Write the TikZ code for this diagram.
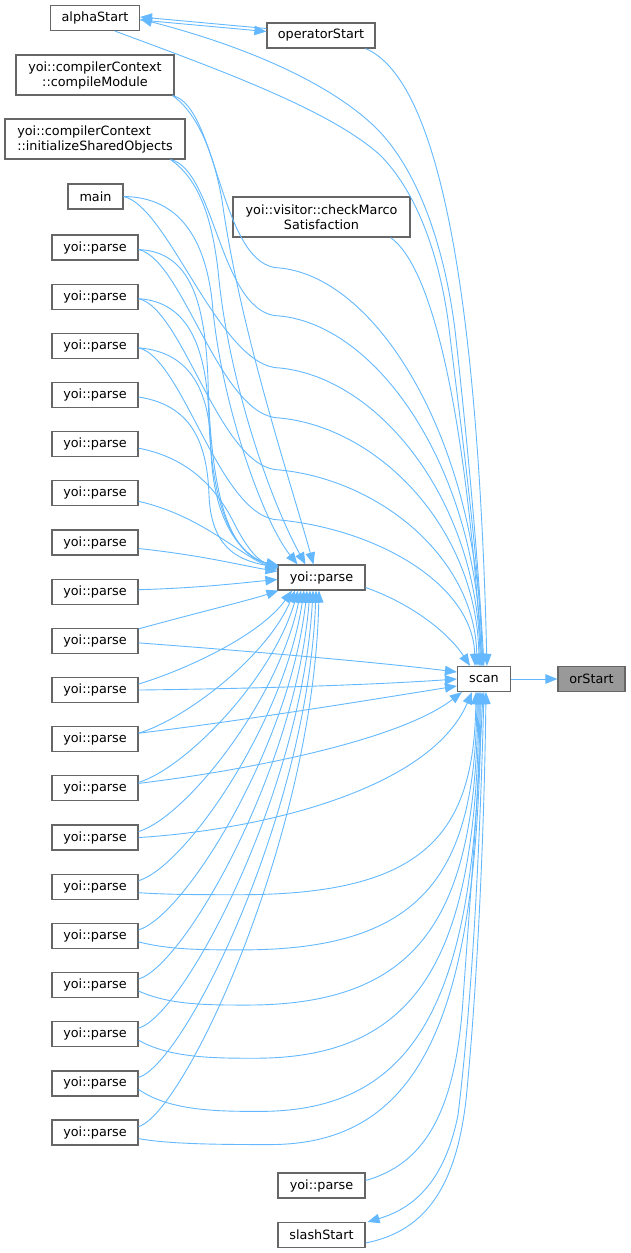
\documentclass[tikz,border=0pt]{standalone}
\usepackage{fontspec}
\setmainfont{DejaVu Sans}
\usetikzlibrary{arrows.meta,calc}
\definecolor{edgeblue}{HTML}{63B8FF}
\definecolor{bordgray}{HTML}{666666}
\definecolor{focusgray}{HTML}{999999}
\tikzset{
  box/.style={draw=bordgray, line width=1.2pt, fill=white, inner sep=0pt, align=center, font=\fontsize{12.8}{15}\selectfont},
  pbox/.style={box, minimum width=86pt, minimum height=25pt},
  conn/.style={draw=edgeblue, line width=0.9pt, -{Triangle[length=12pt,width=9.5pt]}},
}
\begin{document}
\begin{tikzpicture}[x=1pt,y=-1pt]
\useasboundingbox (0,0) rectangle (631,1253);
% ---------- nodes ----------
\node[box, minimum width=89pt, minimum height=25pt] (alpha) at (95,18) {alphaStart};
\node[box, minimum width=108pt, minimum height=25pt] (oper) at (321,35.5) {operatorStart};
\node[box, minimum width=158pt, minimum height=40pt] (cmod) at (95,75) {yoi::compilerContext\\::compileModule};
\node[box, minimum width=180pt, minimum height=40pt, align=left] (init) at (95,139) {yoi::compilerContext\\::initializeSharedObjects};
\node[box, minimum width=55pt, minimum height=25pt] (main) at (95.5,196.5) {main};
\node[box, minimum width=177pt, minimum height=40pt] (chk) at (321.5,217) {yoi::visitor::checkMarco\\Satisfaction};
\foreach \i in {1,...,19}{
  \pgfmathsetmacro{\yy}{247.5+(\i-1)*49.17}
  \node[pbox] (p\i) at (95,\yy) {yoi::parse};
}
\node[box, minimum width=87pt, minimum height=25pt] (mp) at (321.5,577.5) {yoi::parse};
\node[box, minimum width=53pt, minimum height=25pt] (scan) at (484,679) {scan};
\node[box, minimum width=67pt, minimum height=25pt, fill=focusgray] (or) at (591.5,679) {orStart};
\node[box, minimum width=87pt, minimum height=25pt] (bp) at (321.5,1185.5) {yoi::parse};
\node[box, minimum width=87pt, minimum height=25pt] (slash) at (321.5,1235) {slashStart};

% ---------- start coordinates ----------
\coordinate (scmod) at ($(cmod.south east)+(-2,0)$);
\coordinate (sinit) at ($(init.south east)+(-15,0)$);
\coordinate (smain) at (main.east);
\coordinate (sp1) at ($(p1.east)+(0,2)$);
\coordinate (sp2) at ($(p2.east)+(0,2)$);
\coordinate (sp3) at ($(p3.east)+(0,2)$);

% ---------- edges ----------
\draw[conn] (scan.east) -- (or.west);

% alphaStart / operatorStart
\draw[conn] ($(oper.west)+(0,-7)$) -- ($(alpha.east)+(0,-1)$);
\draw[conn] ($(alpha.east)+(0,2)$) -- ($(oper.west)+(0,-4)$);
\draw[conn] ($(scan.north)+(0,0)$) .. controls (478,550) and (465,420) .. (455,330)
   .. controls (445,250) and (420,175) .. (380,132)
   .. controls (340,90) and (260,50) .. ($(alpha.east)+(0,1)$);
\draw[conn] ($(alpha.south)+(20,0)$) .. controls (220,70) and (330,110) .. (380,155)
   .. controls (415,190) and (438,250) .. (448,320)
   .. controls (460,420) and (478,550) .. ($(scan.north)+(-1,0)$);
\draw[conn] ($(oper.south east)+(-10,0)$) .. controls (440,80) and (478,300) .. ($(scan.north)+(3,0)$);
\draw[conn] ($(chk.south east)+(-20,0)$) .. controls (430,265) and (465,400) .. ($(scan.north)+(-2,0)$);

% upper group -> scan
\foreach \s/\L/\ex in {scmod/268/482, sinit/316/481, smain/368/480, sp1/418/479, sp2/470/477, sp3/520/475}{
  \pgfmathsetmacro{\cy}{\L+0.45*(666-\L)}
  \pgfmathsetmacro{\dx}{\ex-484}
  \draw[conn] (\s) .. controls +(45,10) and (220,\L) .. (280,\L)
     .. controls (380,\L+10) and (\ex-2,\cy) .. ($(scan.north)+(\dx,0)$);
}

% upper group -> middle yoi::parse
\draw[conn] (scmod) .. controls (200,115) and (215,160) .. (222,200)
   .. controls (240,330) and (290,480) .. ($(mp.north)+(-8,0)$);
\draw[conn] (sinit) .. controls (200,180) and (212,220) .. (218,270)
   .. controls (228,380) and (270,500) .. ($(mp.north)+(-16,0)$);
\draw[conn] (smain) .. controls (180,197) and (205,240) .. (212,300)
   .. controls (220,400) and (262,520) .. ($(mp.north)+(-24,0)$);
\draw[conn] (sp1) .. controls (190,252) and (205,300) .. (208,380)
   .. controls (211,500) and (230,555) .. ($(mp.north west)+(1,1)$);
\draw[conn] (sp2) .. controls (190,302) and (207,350) .. (209,420)
   .. controls (212,510) and (235,555) .. ($(mp.north west)+(1,2)$);
\draw[conn] (sp3) .. controls (190,352) and (210,390) .. (211,450)
   .. controls (213,520) and (240,555) .. ($(mp.north west)+(1,3)$);
\draw[conn] ($(p4.east)+(0,2)$) .. controls (190,405) and (207,440) .. (209,495)
   .. controls (211,545) and (235,560) .. ($(mp.north west)+(1,3)$);
\draw[conn] ($(p5.east)+(0,4)$) .. controls (190,458) and (218,490) .. (235,525)
   .. controls (248,550) and (258,560) .. ($(mp.west)+(0,-9)$);
\draw[conn] ($(p6.east)+(0,8)$) .. controls (200,515) and (240,555) .. ($(mp.west)+(0,-8)$);
\draw[conn] ($(p7.east)+(0,6)$) .. controls (200,555) and (240,565) .. ($(mp.west)+(0,-6)$);
\draw[conn] ($(p8.east)+(0,-2)$) .. controls (200,588) and (240,583) .. ($(mp.west)+(0,2)$);
\draw[conn] ($(p9.east)+(0,-12)$) .. controls (200,612) and (250,600) .. ($(mp.south west)+(1,0)$);

% lower parse -> middle yoi::parse
\foreach \i in {10,...,19}{
  \pgfmathsetmacro{\yy}{247.5+(\i-1)*49.17}
  \pgfmathsetmacro{\ex}{292+(\i-10)*3}
  \pgfmathsetmacro{\cx}{\ex-5-(19-\i)*3}
  \pgfmathsetmacro{\cy}{591+0.45*(\yy-591)}
  \pgfmathsetmacro{\ay}{\yy-20}
  \pgfmathsetmacro{\dx}{\ex-321.5}
  \draw[conn] ($(p\i.east)+(0,-6)$) .. controls (185,\ay) and (\cx,\cy) .. ($(mp.south)+(\dx,0)$);
}

% middle parse -> scan
\draw[conn] ($(mp.east)+(0,10)$) .. controls (415,605) and (450,635) .. ($(scan.north)+(-14,0)$);

% p9..p13 -> scan
\draw[conn] ($(p9.east)+(0,2)$) .. controls (300,655) and (400,665) .. ($(scan.west)+(0,-7)$);
\draw[conn] (p10.east) .. controls (300,688) and (400,683) .. ($(scan.west)+(0,0)$);
\draw[conn] ($(p11.east)+(0,-6)$) .. controls (250,720) and (400,695) .. ($(scan.west)+(0,7)$);
\draw[conn] ($(p12.east)+(0,-5)$) .. controls (250,770) and (400,740) .. ($(scan.south west)+(5,0)$);
\draw[conn] (p13.east) .. controls (260,830) and (430,790) .. ($(scan.south)+(-12,0)$);

% p14..p19 -> scan
\foreach \i/\bo/\xb/\ex in {14/8/240/476, 15/14/242/477, 16/20/247/478, 17/24/255/479, 18/28/260/480, 19/12/270/481}{
  \pgfmathsetmacro{\yy}{247.5+(\i-1)*49.17}
  \pgfmathsetmacro{\b}{\yy+\bo}
  \pgfmathsetmacro{\cy}{\b-0.3*(\b-692)}
  \pgfmathsetmacro{\dx}{\ex-484}
  \draw[conn] ($(p\i.east)+(0,6)$) .. controls (170,\b) and (\xb-40,\b) .. (\xb,\b)
     .. controls (425,\b) and (\ex-2,\cy) .. ($(scan.south)+(\dx,0)$);
}

% bottom parse -> scan
\draw[conn] ($(bp.east)+(0,-5)$) .. controls (420,1165) and (455,1120) .. (463,1000)
   .. controls (470,900) and (478,800) .. ($(scan.south)+(-1,0)$);

% slashStart <-> scan
\draw[conn] ($(scan.south)+(0,0)$) .. controls (480,850) and (472,1000) .. (458,1115)
   .. controls (445,1180) and (415,1208) .. ($(slash.north east)+(2,0)$);
\draw[conn] ($(slash.east)+(0,8)$) .. controls (420,1232) and (455,1195) .. (466,1100)
   .. controls (476,1000) and (484,850) .. ($(scan.south)+(2,0)$);
\end{tikzpicture}
\end{document}
